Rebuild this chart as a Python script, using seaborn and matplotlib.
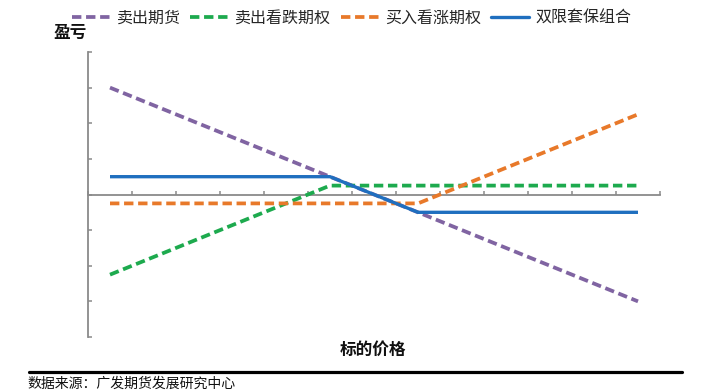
import matplotlib
matplotlib.use("Agg")
import matplotlib.pyplot as plt
from matplotlib.lines import Line2D
import seaborn as sns
import pandas as pd

# ---- data ----
price = [0.5, 5.5, 7.5, 12.5]
sell_futures = [3.0, 0.5, -0.5, -3.0]
sell_put = [-2.25, 0.25, 0.25, 0.25]
buy_call = [-0.25, -0.25, -0.25, 2.25]
collar = [0.5, 0.5, -0.5, -0.5]
series_names = ["卖出期货", "卖出看跌期权", "买入看涨期权", "双限套保组合"]
series_values = [sell_futures, sell_put, buy_call, collar]
colors = ["#8064A2", "#1DAA4E", "#E8792A", "#1F6FBF"]

sns.set_style("white")
plt.rcParams["font.family"] = ["Noto Sans CJK SC", "DejaVu Sans"]

fig = plt.figure(figsize=(7.2, 3.91), dpi=100)
ax = fig.add_axes([88 / 720, (391 - 337) / 391, (660 - 88) / 720, (337 - 52) / 391])

DASH = (2.5, 1.25)
LW_DASH = 2.7
LW_SOLID = 2.4
handles = []
for name, vals, c in zip(series_names, series_values, colors):
    df = pd.DataFrame({"price": price, "pl": vals})
    solid = name == "双限套保组合"
    sns.lineplot(data=df, x="price", y="pl", ax=ax, color=c,
                 linewidth=LW_SOLID if solid else LW_DASH,
                 zorder=4 if solid else 3, legend=False)
    ln = ax.lines[-1]
    if not solid:
        ln.set_dashes(DASH)
    ln.set_solid_capstyle("butt")
    handles.append(Line2D([0], [0], color=c, lw=LW_SOLID if solid else LW_DASH,
                          ls="-" if solid else (0, DASH)))

ax.set_xlim(0, 13)
ax.set_ylim(-4, 4)
ax.set_xticks(range(0, 14))
ax.set_yticks(range(-4, 5))
ax.set_xticklabels([])
ax.set_yticklabels([])
ax.set_xlabel("")
ax.set_ylabel("")
for s in ["top", "right"]:
    ax.spines[s].set_visible(False)
ax.spines["bottom"].set_position(("data", 0))
axis_col = "#8a8a8a"
for s in ["left", "bottom"]:
    ax.spines[s].set_color(axis_col)
    ax.spines[s].set_linewidth(1.3)
ax.tick_params(axis="both", direction="in", length=3, width=1.1, color=axis_col)
ax.tick_params(axis="x", bottom=True)
ax.tick_params(axis="y", left=True)

fig.legend(handles, series_names, loc="center", ncol=4,
           bbox_to_anchor=(352 / 720, 1 - 18 / 391), frameon=False,
           fontsize=11.5, handlelength=2.4, handletextpad=0.4,
           columnspacing=0.6, labelcolor="#262626")

fig.text(53 / 720, 1 - 33 / 391, "盈亏", fontsize=12, fontweight="bold",
         ha="left", va="center", color="#111111")
fig.text(373 / 720, 1 - 350 / 391, "标的价格", fontsize=12, fontweight="bold",
         ha="center", va="center", color="#111111")

fig.add_artist(Line2D([29 / 720, 682 / 720], [1 - 372 / 391, 1 - 372 / 391],
                      transform=fig.transFigure, color="black", lw=2.3))
fig.text(27 / 720, 1 - 390.5 / 391, "数据来源：广发期货发展研究中心", fontsize=10,
         ha="left", va="bottom", color="#111111")

fig.savefig("out.png", dpi=100)
